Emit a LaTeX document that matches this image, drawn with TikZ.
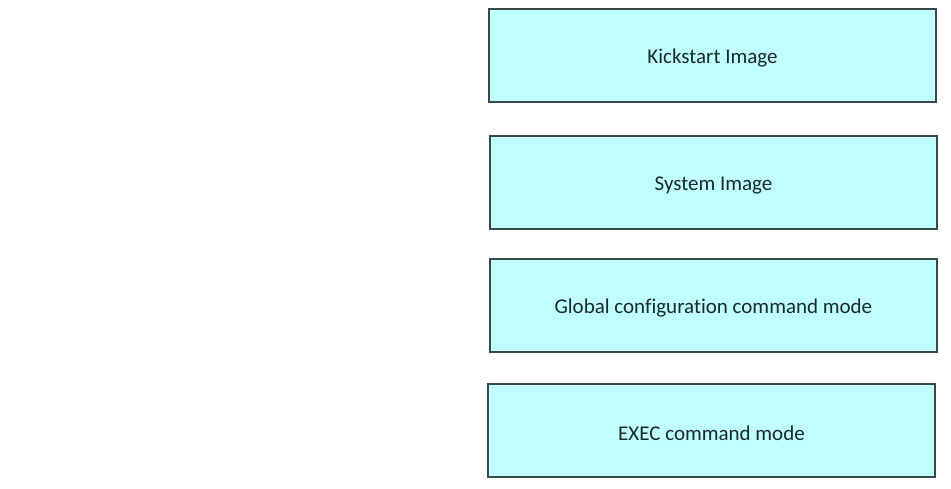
\documentclass[tikz,border=0pt]{standalone}
\usepackage{fontspec}
\setmainfont[Ligatures=NoCommon]{Carlito}
\definecolor{boxfill}{HTML}{C0FFFF}
\definecolor{boxline}{HTML}{3A4A4A}
\definecolor{boxtext}{HTML}{1A2A2A}
\begin{document}
\begin{tikzpicture}[x=1pt,y=-1pt,
  box/.style={draw=boxline,line width=1.5pt,fill=boxfill},
  lbl/.style={text=boxtext,font=\fontsize{21}{24}\selectfont,yshift=-3pt}]
\useasboundingbox (0,0) rectangle (951,489);
\fill[white] (0,0) rectangle (951,489);
\draw[box] (489,9) rectangle (936,102) node[midway,lbl] (k) {Kickstart Image};
\draw[box] (490,136) rectangle (937,229) node[midway,lbl] (s) {System Image};
\draw[box] (490,259) rectangle (937,352) node[midway,lbl] (g) {Global configuration command mode};
\draw[box] (488,384) rectangle (935,477) node[midway,lbl] (e) {EXEC command mode};
\end{tikzpicture}
\end{document}
